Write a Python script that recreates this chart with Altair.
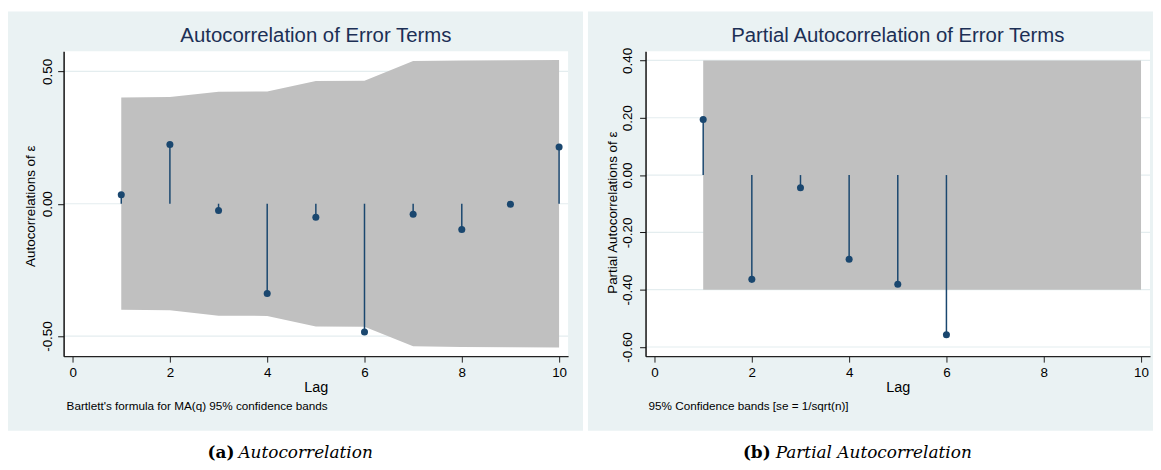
import altair as alt
import pandas as pd

# ---------------- data ----------------
acf_lags = [1, 2, 3, 4, 5, 6, 7, 8, 9, 10]
acf_values = [0.034, 0.224, -0.026, -0.339, -0.051, -0.485, -0.040, -0.097, -0.002, 0.214]
acf_band = [0.401, 0.403, 0.423, 0.424, 0.464, 0.465, 0.539, 0.541, 0.542, 0.543]

pacf_lags = [1, 2, 3, 4, 5, 6]
pacf_values = [0.194, -0.364, -0.044, -0.294, -0.381, -0.557]
pacf_band_lags = [1, 10]
pacf_band = [0.40, 0.40]

x_ticks = [0, 2, 4, 6, 8, 10]
acf_y_ticks = [-0.5, 0.0, 0.5]
pacf_y_ticks = [-0.6, -0.4, -0.2, 0.0, 0.2, 0.4]

panel_titles = ["Autocorrelation of Error Terms", "Partial Autocorrelation of Error Terms"]
y_titles = ["Autocorrelations of \u03b5", "Partial Autocorrelations of \u03b5"]
x_title = "Lag"
notes = ["Bartlett's formula for MA(q) 95% confidence bands", "95% Confidence bands [se = 1/sqrt(n)]"]
caption_tags = ["(a)", "(b)"]
caption_texts = ["Autocorrelation", "Partial Autocorrelation"]

# ---------------- style ----------------
W, H = 508, 307
BG = "#eaf2f3"
GRID = "#e4edef"
BAND = "#c0c0c0"
NAVY = "#1a476f"
TITLE_C = "#1c2f55"
SANS = "Liberation Sans"
SERIF = "DejaVu Serif"
XDOM = [-0.185, 10.185]


def panel(i, lags, vals, band_lags, band, yticks, ydom, bg_x0, bg_x1, ytitle_y, tag_x, text_x, ylab_pad):
    one = pd.DataFrame({"k": [0]})
    xs = alt.Scale(domain=XDOM, nice=False, zero=False)
    ys = alt.Scale(domain=ydom, nice=False, zero=False)

    bg = alt.Chart(one).mark_rect(color=BG).encode(
        x=alt.value(bg_x0), x2=alt.value(bg_x1), y=alt.value(-40), y2=alt.value(382)
    )
    plotbg = alt.Chart(one).mark_rect(color="white").encode(
        x=alt.value(0), x2=alt.value(W), y=alt.value(0), y2=alt.value(H)
    )
    grid = alt.Chart(pd.DataFrame({"v": yticks})).mark_rule(color=GRID, strokeWidth=1.2).encode(
        y=alt.Y("v:Q", scale=ys), x=alt.value(0), x2=alt.value(W)
    )

    band_df = pd.DataFrame({"lag": band_lags, "hi": band, "lo": [-b for b in band]})
    band_layer = alt.Chart(band_df).mark_area(color=BAND, opacity=1, interpolate="linear").encode(
        x=alt.X(
            "lag:Q",
            scale=xs,
            axis=alt.Axis(
                values=x_ticks, title=x_title, grid=False, tickSize=6, labelPadding=3,
                labelFontSize=13.5, titleFontSize=14.5, labelFont=SANS, titleFont=SANS,
                labelColor="black", titleColor="black", domainColor="#222", domainWidth=1.3,
                tickColor="#222", titleY=36, titleBaseline="alphabetic", titleFontWeight="normal",
                zindex=1, format="d", labelFlush=False, labelOverlap=False,
            ),
        ),
        y=alt.Y(
            "hi:Q",
            scale=ys,
            axis=alt.Axis(
                values=yticks, title=ytitle_y[0], grid=False, tickSize=6, labelPadding=ylab_pad,
                labelAngle=270, labelAlign="center", labelBaseline="bottom",
                labelFontSize=13.5, titleFontSize=13.5, labelFont=SANS, titleFont=SANS,
                labelColor="black", titleColor="black", domainColor="#111", domainWidth=1.5,
                tickColor="#111", titleAngle=270, titleX=-33.5, titleY=ytitle_y[1],
                titleAlign="center", titleBaseline="middle", titleFontWeight="normal",
                labelExpr="datum.value < 0 ? '-' + format(-datum.value, '.2f') : format(datum.value, '.2f')",
                zindex=1, labelFlush=False, labelOverlap=False,
            ),
        ),
        y2="lo:Q",
    )

    pts_df = pd.DataFrame({"lag": lags, "v": vals, "zero": [0.0] * len(lags)})
    stems = alt.Chart(pts_df).mark_rule(color=NAVY, strokeWidth=1.5).encode(
        x=alt.X("lag:Q", scale=xs), y=alt.Y("v:Q", scale=ys), y2="zero:Q"
    )
    pts = alt.Chart(pts_df).mark_circle(color=NAVY, opacity=1, size=50).encode(
        x=alt.X("lag:Q", scale=xs), y=alt.Y("v:Q", scale=ys)
    )

    title = alt.Chart(pd.DataFrame({"t": [panel_titles[i]]})).mark_text(
        font=SANS, fontSize=20.5, color=TITLE_C, align="center", baseline="middle"
    ).encode(x=alt.value(W / 2), y=alt.value(-15), text="t:N")
    note = alt.Chart(pd.DataFrame({"t": [notes[i]]})).mark_text(
        font=SANS, fontSize=11.8, color="black", align="left", baseline="middle"
    ).encode(x=alt.value(3), y=alt.value(357), text="t:N")
    tag = alt.Chart(pd.DataFrame({"t": [caption_tags[i]]})).mark_text(
        font=SERIF, fontSize=17, fontWeight="bold", color="black", align="right", baseline="middle"
    ).encode(x=alt.value(tag_x), y=alt.value(405), text="t:N")
    cap = alt.Chart(pd.DataFrame({"t": [caption_texts[i]]})).mark_text(
        font=SERIF, fontSize=17, fontStyle="italic", color="black", align="left", baseline="middle"
    ).encode(x=alt.value(text_x), y=alt.value(405), text="t:N")

    return alt.layer(bg, plotbg, grid, band_layer, stems, pts, title, note, tag, cap).properties(
        width=W, height=H
    )


left = panel(0, acf_lags, acf_values, acf_lags, acf_band, acf_y_ticks, [-0.576, 0.576],
             -56, 523, (y_titles[0], 155.5), 172, 176, 3)
right = panel(1, pacf_lags, pacf_values, pacf_band_lags, pacf_band, pacf_y_ticks, [-0.632, 0.432],
              -58, 511, (y_titles[1], 162), 126, 131, 5)

chart = alt.hconcat(left, right, spacing=5).properties(
    padding={"left": 0, "top": 2, "right": 0, "bottom": 0}, background="white"
).configure_view(stroke=None)

chart.save("out.html", embed_options={"renderer": "svg", "actions": False})
